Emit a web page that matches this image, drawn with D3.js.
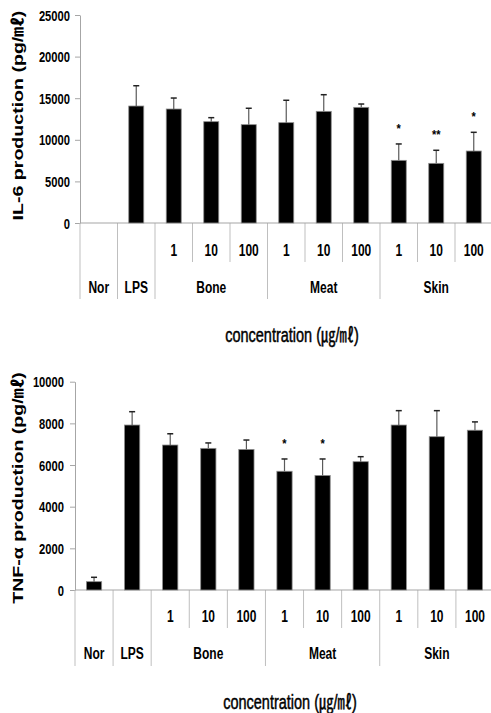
<!DOCTYPE html>
<html>
<head>
<meta charset="utf-8">
<script src="https://cdn.jsdelivr.net/npm/d3@7"></script>
<style>
  html, body { margin: 0; padding: 0; background: #fff; }
  svg { display: block; }
</style>
</head>
<body>
<svg id="chart" width="491" height="713"></svg>
<script>
// Sample groups: two controls, then three extracts at three concentrations
const controls = ["Nor", "LPS"];
const extracts = ["Bone", "Meat", "Skin"];
const concentrations = ["1", "10", "100"];

// IL-6 production (pg/mL): mean and upper error (SD)
const il6Mean = [0, 14060, 13700, 12180, 11820, 12060, 13420, 13900, 7530, 7170, 8650];
const il6Err  = [0, 2440, 1320, 480, 1970, 2690, 2000, 400, 1970, 1570, 2250];
const il6Sig  = ["", "", "", "", "", "", "", "", "*", "**", "*"];
const il6Ticks = [0, 5000, 10000, 15000, 20000, 25000];

// TNF-alpha production (pg/mL): mean and upper error (SD)
const tnfMean = [400, 7920, 6960, 6800, 6750, 5700, 5500, 6160, 7920, 7360, 7670];
const tnfErr  = [210, 640, 540, 260, 450, 590, 790, 240, 690, 1250, 400];
const tnfSig  = ["", "", "", "", "", "*", "*", "", "", "", ""];
const tnfTicks = [0, 2000, 4000, 6000, 8000, 10000];

const categories = controls.map(g => ({ group: g, conc: "" }))
  .concat(extracts.flatMap(g => concentrations.map(c => ({ group: g, conc: c }))));
categories.forEach((c, i) => c.key = c.group + " " + c.conc + "#" + i);

const svg = d3.select("#chart");
const FONT = "'Liberation Sans', Arial, 'Noto Sans CJK KR', sans-serif";
const STRETCH = 1.3;   // tall lettering

function tallText(g, x, y, str, opts = {}) {
  const t = g.append("text")
    .attr("transform", `translate(${x},${y}) scale(1,${opts.k || STRETCH})`)
    .attr("text-anchor", opts.anchor || "middle")
    .attr("dominant-baseline", "central")
    .attr("font-family", FONT)
    .attr("font-size", opts.size || 12)
    .attr("font-weight", opts.weight || "bold")
    .attr("fill", "#000")
    .text(str);
  if (opts.thicken) t.attr("stroke", "#000").attr("stroke-width", opts.thicken);
  return t;
}

function panel(cfg) {
  const g = svg.append("g");
  const x = d3.scaleBand().domain(categories.map(c => c.key)).range([cfg.left, cfg.right]).padding(0);
  const y = d3.scaleLinear().domain([0, cfg.max]).range([cfg.bottom, cfg.top]);
  const bw = x.bandwidth();
  const barW = bw * 0.4;

  // y axis
  const axis = d3.axisLeft(y).tickValues(cfg.ticks).tickSize(5).tickSizeOuter(0)
    .tickPadding(cfg.tickPad).tickFormat(d3.format("d"));
  const ax = g.append("g").attr("transform", `translate(${cfg.left},0)`).call(axis);
  ax.select(".domain").attr("stroke", "#a6a6a6");
  ax.selectAll(".tick line").attr("stroke", "#a6a6a6");
  ax.selectAll(".tick text")
    .attr("font-family", FONT).attr("font-size", 11.2).attr("font-weight", "bold")
    .attr("fill", "#000").attr("dy", null).attr("dominant-baseline", "central")
    .attr("transform", `scale(1,${STRETCH})`)
    .attr("y", 0);

  // category boundaries (table grid beneath the axis)
  const edges = d3.range(categories.length + 1).map(i =>
    i < categories.length ? x(categories[i].key) : cfg.right);
  edges.forEach((ex, i) => {
    const full = i === 0 || i === categories.length ||
      categories[i - 1].group !== categories[i].group;
    g.append("line")
      .attr("x1", ex).attr("x2", ex)
      .attr("y1", cfg.bottom).attr("y2", full ? cfg.sepFull : cfg.sepInner)
      .attr("stroke", "#bfbfbf").attr("stroke-width", 1);
  });

  // x axis baseline
  g.append("line").attr("x1", cfg.left).attr("x2", cfg.right)
    .attr("y1", cfg.bottom).attr("y2", cfg.bottom)
    .attr("stroke", "#a6a6a6").attr("stroke-width", 1.2);

  // bars
  const data = categories.map((c, i) => ({ c, mean: cfg.mean[i], err: cfg.err[i], sig: cfg.sig[i] }))
    .filter(d => d.mean > 0);
  g.selectAll("rect.bar").data(data).join("rect")
    .attr("class", "bar")
    .attr("x", d => x(d.c.key) + (bw - barW) / 2)
    .attr("width", barW)
    .attr("y", d => y(d.mean))
    .attr("height", d => y(0) - y(d.mean))
    .attr("fill", "#000").attr("stroke", "#8c8c8c").attr("stroke-width", 0.8);

  // error bars
  g.selectAll("line.err").data(data).join("line")
    .attr("class", "err")
    .attr("x1", d => x(d.c.key) + bw / 2).attr("x2", d => x(d.c.key) + bw / 2)
    .attr("y1", d => y(d.mean)).attr("y2", d => y(d.mean + d.err))
    .attr("stroke", "#5a5a5a").attr("stroke-width", 1.2);
  g.selectAll("line.cap").data(data).join("line")
    .attr("class", "cap")
    .attr("x1", d => x(d.c.key) + bw / 2 - 3).attr("x2", d => x(d.c.key) + bw / 2 + 3)
    .attr("y1", d => y(d.mean + d.err)).attr("y2", d => y(d.mean + d.err))
    .attr("stroke", "#222").attr("stroke-width", 1.5);

  // significance marks
  data.filter(d => d.sig).forEach(d => {
    tallText(g, x(d.c.key) + bw / 2, y(d.mean + d.err) - 15, d.sig, { size: 11, k: 1.1 });
  });

  // concentration row
  categories.forEach(c => {
    if (c.conc) tallText(g, x(c.key) + bw / 2, cfg.row1, c.conc, { size: 12 });
  });
  // group row
  const groups = controls.concat(extracts);
  groups.forEach(gr => {
    const members = categories.filter(c => c.group === gr);
    const x0 = x(members[0].key);
    const x1 = x(members[members.length - 1].key) + bw;
    tallText(g, (x0 + x1) / 2, cfg.row2, gr, { size: 12 });
  });

  // axis titles
  tallText(g, cfg.xTitleX, cfg.xTitleY, "concentration (㎍/㎖)",
    { size: 14.5, weight: "normal", k: 1.35, thicken: 0.35 });
  g.append("text")
    .attr("transform", `translate(${cfg.yTitleX},${cfg.yTitleY}) rotate(-90) scale(1.35,1)`)
    .attr("text-anchor", "middle")
    .attr("font-family", FONT).attr("font-size", 14.5).attr("font-weight", "bold")
    .attr("fill", "#000")
    .text(cfg.yTitle);
}

panel({
  left: 80, right: 492.5, top: 15, bottom: 223, max: 25000, ticks: il6Ticks, tickPad: 5,
  mean: il6Mean, err: il6Err, sig: il6Sig,
  row1: 250, row2: 287, sepInner: 262, sepFull: 299,
  xTitleX: 292, xTitleY: 335,
  yTitle: "IL-6 production  (pg/㎖)", yTitleX: 22.5, yTitleY: 115.5
});

panel({
  left: 75, right: 494, top: 381.7, bottom: 590, max: 10000, ticks: tnfTicks, tickPad: 6,
  mean: tnfMean, err: tnfErr, sig: tnfSig,
  row1: 616, row2: 653, sepInner: 628, sepFull: 666,
  xTitleX: 290, xTitleY: 702,
  yTitle: "TNF-α production (pg/㎖)", yTitleX: 22.5, yTitleY: 488
});
</script>
</body>
</html>
